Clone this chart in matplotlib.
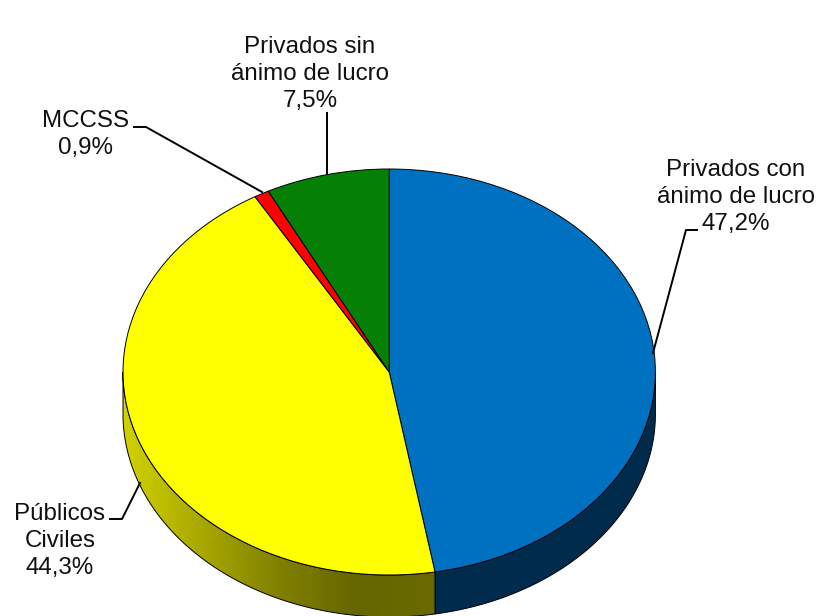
import numpy as np
import matplotlib.pyplot as plt
from matplotlib.colors import LinearSegmentedColormap
from matplotlib.patches import Polygon

plt.rcParams["font.family"] = ["Liberation Sans", "DejaVu Sans"]

categories = ["Privados con\nánimo de lucro\n47,2%", "Públicos\nCiviles\n44,3%", "MCCSS\n0,9%", "Privados sin\nánimo de lucro\n7,5%"]
values = [47.2, 44.3, 0.9, 7.5]
colors = ["#0070C0", "#FFFF00", "#FF0000", "#067F06"]

W, H = 823, 616
cx, cy, rx, ry = 389.2, 372, 266.2, 203
depth = 42 / ry

fig = plt.figure(figsize=(W / 100, H / 100), dpi=100)
ax = fig.add_axes([0, 0, 1, 1])
ax.pie(values, colors=colors, startangle=90, counterclock=False, radius=1,
       wedgeprops={"edgecolor": "black", "linewidth": 0.7})
ax.set_aspect("auto")
ax.set_xlim(-cx / rx, (W - cx) / rx)
ax.set_ylim(-(H - cy) / ry, cy / ry)
ax.axis("off")


def wall(start, end):
    # side of the slice between two clockwise angles from the top
    t = np.radians(np.linspace(start, end, 200))
    x, y = np.sin(t), np.cos(t)
    return np.r_[np.c_[x, y], np.c_[x, y - depth][::-1]]


shares = 360 * np.cumsum(values) / np.sum(values)
blue_end = shares[0]

# blue wall
blue_wall = Polygon(wall(90, blue_end), facecolor="#002B4D", edgecolor="black", linewidth=0.7, zorder=0.5)
ax.add_patch(blue_wall)

# yellow wall, shaded from left to right
yellow_wall = Polygon(wall(blue_end, 270), facecolor="none", edgecolor="black", linewidth=0.7, zorder=0.7)
ax.add_patch(yellow_wall)
cmap = LinearSegmentedColormap.from_list("side", ["#D2D200", "#A8A800", "#808000", "#666600", "#6A6A00"])
xr = np.sin(np.radians(blue_end))
img = ax.imshow(np.linspace(0, 1, 256)[None, :], cmap=cmap, aspect="auto",
                extent=(-1, xr, -1 - depth, 0.1), zorder=0.6)
img.set_clip_path(Polygon(wall(blue_end, 270), transform=ax.transData))
ax.set_xlim(-cx / rx, (W - cx) / rx)
ax.set_ylim(-(H - cy) / ry, cy / ry)

# labels and leaders in pixel coordinates
ov = fig.add_axes([0, 0, 1, 1])
ov.set_xlim(0, W)
ov.set_ylim(H, 0)
ov.axis("off")

label_pos = [(736, 197), (60, 541), (86, 134.5), (310, 74)]
for name, (lx, ly) in zip(categories, label_pos):
    ov.text(lx, ly, name, ha="center", va="center", fontsize=17.4, color="#111111", linespacing=1.31)

lead_x = [[697, 686, 653], [110, 122, 140], [134, 146, 262], [327, 327]]
lead_y = [[230, 230, 353], [519, 519, 483], [127, 127, 192], [113, 174]]
for lx, ly in zip(lead_x, lead_y):
    ov.plot(lx, ly, color="black", linewidth=1.4)

fig.savefig("out.png", dpi=100)
